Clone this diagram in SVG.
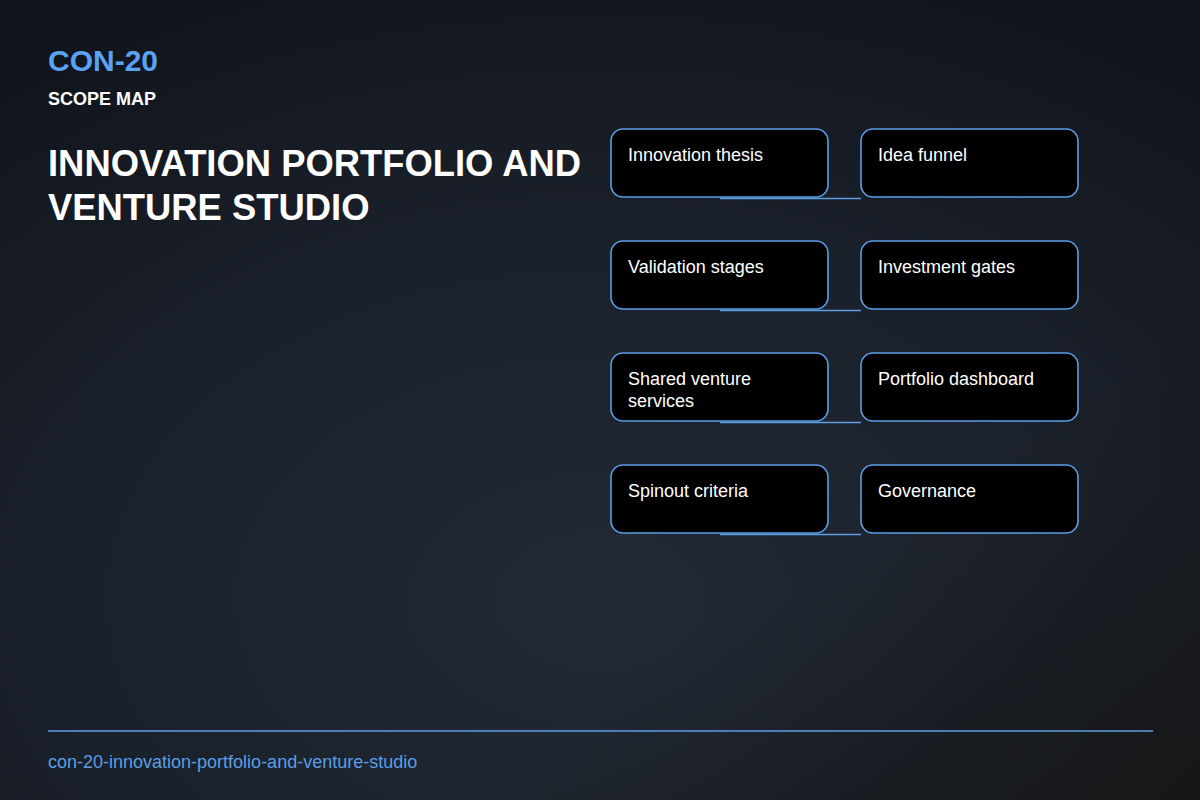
<svg xmlns="http://www.w3.org/2000/svg" width="1200" height="800" viewBox="0 0 1200 800">
<defs>
<radialGradient id="bg" cx="0.5" cy="0.75" r="0.8">
<stop offset="0" stop-color="#222a34"/>
<stop offset="0.6" stop-color="#1a2029"/>
<stop offset="1" stop-color="#11161e"/>
</radialGradient>
<linearGradient id="shade" x1="0" y1="0" x2="1" y2="1">
<stop offset="0.7" stop-color="#161616" stop-opacity="0"/>
<stop offset="1" stop-color="#161616" stop-opacity="0.9"/>
</linearGradient>
<style>
.node rect{fill:#000;stroke:#5b9ee6;stroke-width:1.6}
.node text{font-family:"Liberation Sans",Arial,sans-serif;font-size:18px;fill:#fff}
.conn line{stroke:#5b9ee6;stroke-width:1.6}
</style>
</defs>
<rect width="1200" height="800" fill="url(#bg)"/>
<rect width="1200" height="800" fill="url(#shade)"/>
<text x="48" y="71" font-family="Liberation Sans,Arial,sans-serif" font-size="30" font-weight="bold" fill="#5aa2f2">CON-20</text>
<text x="48" y="105" font-family="Liberation Sans,Arial,sans-serif" font-size="18" font-weight="bold" fill="#fff">SCOPE MAP</text>
<text font-family="Liberation Sans,Arial,sans-serif" font-size="36.4" font-weight="bold" fill="#fff"><tspan x="48" y="176">INNOVATION PORTFOLIO AND</tspan><tspan x="48" y="220">VENTURE STUDIO</tspan></text>
<g class="conn">
<line x1="720" y1="198.5" x2="861" y2="198.5"/>
<line x1="720" y1="310.5" x2="861" y2="310.5"/>
<line x1="720" y1="422.5" x2="861" y2="422.5"/>
<line x1="720" y1="534.5" x2="861" y2="534.5"/>
</g>
<g id="n1" class="node"><rect x="611" y="129" width="217" height="68" rx="12"/><text x="628" y="161">Innovation thesis</text></g>
<g id="n2" class="node"><rect x="861" y="129" width="217" height="68" rx="12"/><text x="878" y="161">Idea funnel</text></g>
<g id="n3" class="node"><rect x="611" y="241" width="217" height="68" rx="12"/><text x="628" y="273">Validation stages</text></g>
<g id="n4" class="node"><rect x="861" y="241" width="217" height="68" rx="12"/><text x="878" y="273">Investment gates</text></g>
<g id="n5" class="node"><rect x="611" y="353" width="217" height="68" rx="12"/><text x="628" y="385">Shared venture</text><text x="628" y="407">services</text></g>
<g id="n6" class="node"><rect x="861" y="353" width="217" height="68" rx="12"/><text x="878" y="385">Portfolio dashboard</text></g>
<g id="n7" class="node"><rect x="611" y="465" width="217" height="68" rx="12"/><text x="628" y="497">Spinout criteria</text></g>
<g id="n8" class="node"><rect x="861" y="465" width="217" height="68" rx="12"/><text x="878" y="497">Governance</text></g>
<line x1="48" y1="731" x2="1153" y2="731" stroke="#5b9ee6" stroke-width="1.6"/>
<text x="48" y="768" font-family="Liberation Sans,Arial,sans-serif" font-size="18" fill="#5b9ee6">con-20-innovation-portfolio-and-venture-studio</text>
</svg>
